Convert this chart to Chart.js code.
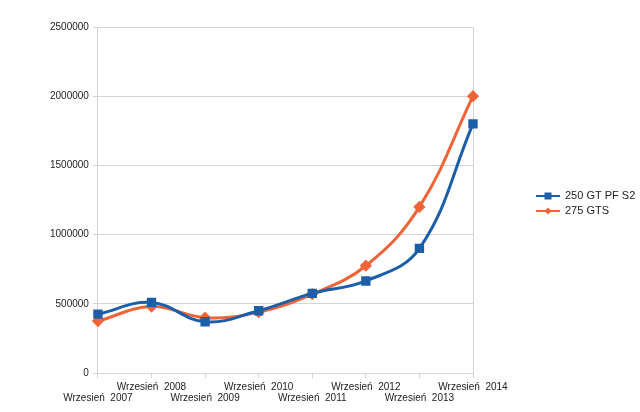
<!DOCTYPE html>
<html>
<head>
<meta charset="utf-8">
<script src="https://cdn.jsdelivr.net/npm/chart.js@4"></script>
<style>
  html, body { margin: 0; padding: 0; background: #fff; }
  #wrap { width: 640px; height: 412px; }
</style>
</head>
<body>
<div id="wrap"><canvas id="carChart" width="640" height="412"></canvas></div>
<script>
const labels = ["Wrzesień  2007", "Wrzesień  2008", "Wrzesień  2009", "Wrzesień  2010",
                "Wrzesień  2011", "Wrzesień  2012", "Wrzesień  2013", "Wrzesień  2014"]
const gtpf = [425000, 510000, 370000, 450000, 575000, 665000, 900000, 1800000]
const gts = [375000, 480000, 400000, 440000, 570000, 775000, 1200000, 2000000]
const seriesNames = ["250 GT PF S2", "275 GTS"]
const yTicks = [0, 500000, 1000000, 1500000, 2000000, 2500000]

const blue = '#1d5ea8'
const orange = '#f26338'
const gridGrey = '#d4d4d4'
const fontFamily = '"Liberation Sans", Arial, sans-serif'

// legend drawn by hand: line with marker, like the original
const sideLegend = {
    id: 'sideLegend',
    afterDraw(chart) {
        const c = chart.ctx
        const rows = [196, 211]
        chart.data.datasets.forEach((ds, i) => {
            const y = rows[i]
            c.save()
            c.strokeStyle = ds.borderColor
            c.lineWidth = 2
            c.beginPath()
            c.moveTo(536, y)
            c.lineTo(560, y)
            c.stroke()
            c.fillStyle = ds.borderColor
            c.translate(548, y)
            if (ds.pointStyle === 'rectRot') {
                c.rotate(Math.PI / 4)
                c.fillRect(-2.5, -2.5, 5, 5)
            } else {
                c.fillRect(-3.5, -3.5, 7, 7)
            }
            c.restore()
            c.fillStyle = '#222'
            c.font = '11px ' + fontFamily
            c.textBaseline = 'middle'
            c.fillText(ds.label, 565, y)
        })
    }
}

const ctx = document.getElementById('carChart').getContext('2d')
const chart = new Chart(ctx, {
    type: 'line',
    data: {
        labels: labels,
        datasets: [{
            label: seriesNames[0],
            data: gtpf,
            borderColor: blue,
            backgroundColor: blue,
            borderWidth: 3,
            pointStyle: 'rect',
            pointRadius: 4.5,
            pointHoverRadius: 4.5,
            tension: 0.4,
            fill: false
        }, {
            label: seriesNames[1],
            data: gts,
            borderColor: orange,
            backgroundColor: orange,
            borderWidth: 3,
            pointStyle: 'rectRot',
            pointRadius: 4,
            pointHoverRadius: 4,
            tension: 0.4,
            fill: false
        }]
    },
    options: {
        responsive: false,
        animation: false,
        devicePixelRatio: 1,
        layout: {
            padding: { left: 46, right: 167, top: 27, bottom: 4 }
        },
        plugins: {
            legend: { display: false },
            tooltip: { enabled: false }
        },
        scales: {
            x: {
                offset: false,
                border: { display: true, color: gridGrey },
                grid: {
                    color: c => c.index === labels.length - 1 ? gridGrey : 'rgba(0,0,0,0)',
                    tickColor: gridGrey,
                    tickLength: 5
                },
                ticks: {
                    maxRotation: 0,
                    autoSkip: false,
                    color: '#222',
                    padding: 4,
                    font: { family: fontFamily, size: 10, lineHeight: 1.1 },
                    callback: function (value, index) {
                        const text = labels[index]
                        return index % 2 === 0 ? ['', text] : [text, '']
                    }
                }
            },
            y: {
                min: 0,
                max: 2500000,
                border: { display: true, color: gridGrey },
                afterBuildTicks: axis => { axis.ticks = yTicks.map(v => ({ value: v })) },
                grid: {
                    color: gridGrey,
                    tickColor: gridGrey,
                    tickLength: 5
                },
                ticks: {
                    color: '#222',
                    padding: 4,
                    font: { family: fontFamily, size: 10 },
                    callback: v => String(v)
                }
            }
        }
    },
    plugins: [sideLegend]
})
</script>
</body>
</html>
